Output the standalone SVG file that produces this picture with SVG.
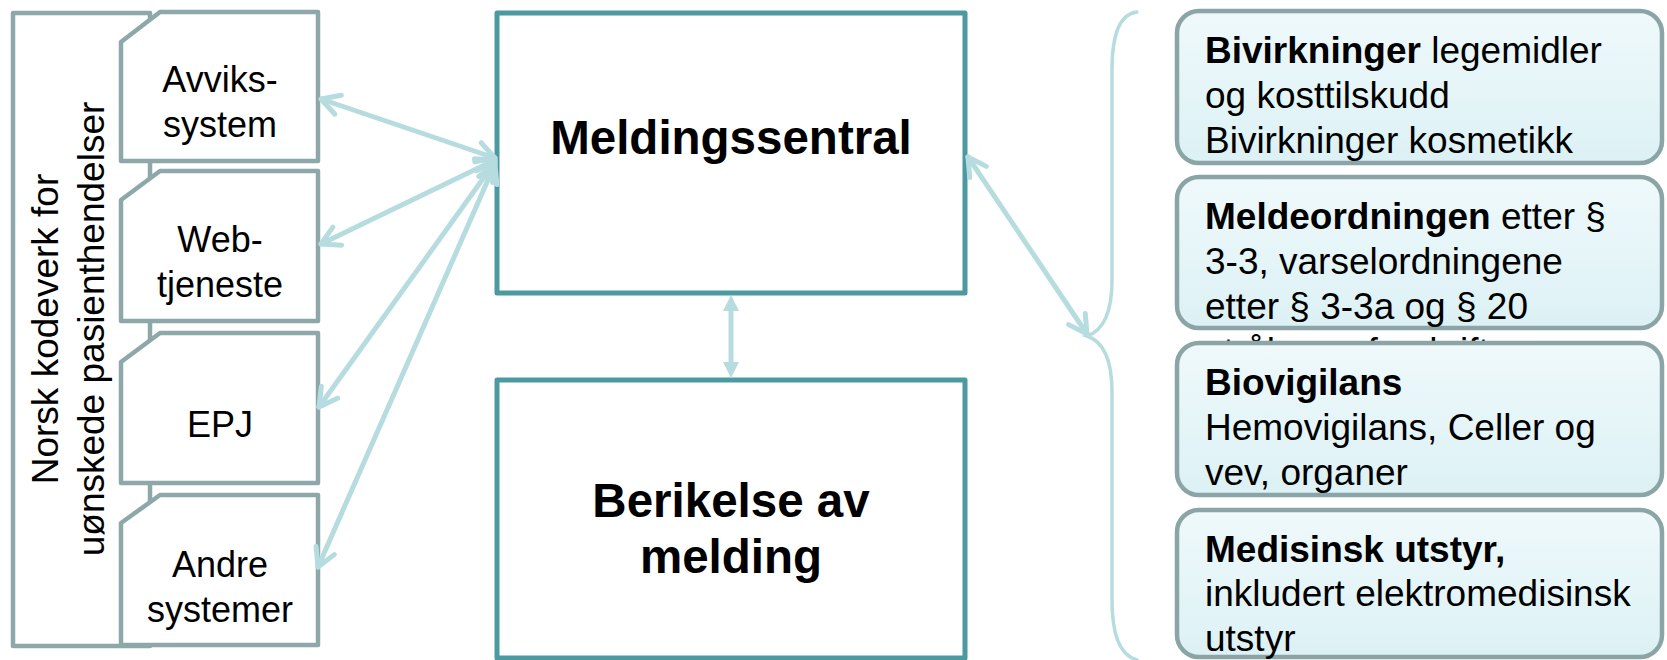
<svg xmlns="http://www.w3.org/2000/svg" width="1667" height="660" viewBox="0 0 1667 660">
<style>
text{font-family:"Liberation Sans",Arial,sans-serif;fill:#000}
.sys{fill:#fff;stroke:#8ea8aa;stroke-width:4.5;stroke-linejoin:round}
.sysT{font-size:36px;text-anchor:middle}
.vert{font-size:37px;text-anchor:middle}
.main{fill:#fff;stroke:#4a9aa0;stroke-width:5;stroke-linejoin:round}
.mainT{font-size:47.5px;font-weight:bold;text-anchor:middle}
.cat{fill:url(#catGrad);stroke:#8ba5a7;stroke-width:4.5}
.catT{font-size:37px}
.b{font-weight:bold}
.conn{fill:none;stroke:#b6dce0;stroke-width:5;stroke-linecap:round}
.brace{fill:none;stroke:#b6dce0;stroke-width:3.5;stroke-linecap:round}
</style>
<defs>
<linearGradient id="catGrad" x1="0" y1="0" x2="0" y2="1">
<stop offset="0" stop-color="#eff9fb"/>
<stop offset="1" stop-color="#dcf1f5"/>
</linearGradient>
<clipPath id="overflowClip">
<rect x="1177" y="326" width="485" height="18"/>
</clipPath>
<marker id="chev" markerUnits="userSpaceOnUse" orient="auto-start-reverse" markerWidth="40" markerHeight="40" refX="0" refY="0" overflow="visible">
<path d="M -18 -10 L 0 0 L -18 10" fill="none" stroke="#b6dce0" stroke-width="5" stroke-linecap="round" stroke-linejoin="round"/>
</marker>
<marker id="tri" markerUnits="userSpaceOnUse" orient="auto-start-reverse" markerWidth="40" markerHeight="40" refX="0" refY="0" overflow="visible">
<path d="M 0 -8 L 16 0 L 0 8 Z" fill="#b6dce0"/>
</marker>
</defs>

<g id="kodeverk">
<rect class="sys" x="13" y="13" width="137" height="633"/>
<text class="vert" transform="translate(58,329) rotate(-90)">Norsk kodeverk for</text>
<text class="vert" transform="translate(104,329) rotate(-90)">uønskede pasienthendelser</text>
</g>

<g id="avvikssystem">
<polygon class="sys" points="121,42 160,12 318,12 318,161 121,161"/>
<text class="sysT" x="220" y="92">Avviks-</text>
<text class="sysT" x="220" y="137">system</text>
</g>
<g id="webtjeneste">
<polygon class="sys" points="121,200 160,171 318,171 318,321 121,321"/>
<text class="sysT" x="220" y="252">Web-</text>
<text class="sysT" x="220" y="297">tjeneste</text>
</g>
<g id="epj">
<polygon class="sys" points="121,362 160,333 318,333 318,483 121,483"/>
<text class="sysT" x="220" y="437">EPJ</text>
</g>
<g id="andre">
<polygon class="sys" points="121,523 160,495 318,495 318,645 121,645"/>
<text class="sysT" x="220" y="577">Andre</text>
<text class="sysT" x="220" y="622">systemer</text>
</g>

<g id="meldingssentral">
<rect class="main" x="497" y="13" width="468" height="280"/>
<text class="mainT" x="731" y="154">Meldingssentral</text>
</g>
<g id="berikelse">
<rect class="main" x="497" y="380" width="468" height="278"/>
<text class="mainT" x="731" y="517">Berikelse av</text>
<text class="mainT" x="731" y="573">melding</text>
</g>

<g id="kat-bivirkninger">
<rect class="cat" x="1177" y="11" width="485" height="152" rx="22" ry="22"/>
<text class="catT" x="1205" y="63"><tspan class="b">Bivirkninger</tspan> legemidler</text>
<text class="catT" x="1205" y="108">og kosttilskudd</text>
<text class="catT" x="1205" y="153">Bivirkninger kosmetikk</text>
</g>
<g id="kat-meldeordningen">
<rect class="cat" x="1177" y="177" width="485" height="151" rx="22" ry="22"/>
<text class="catT" x="1205" y="229"><tspan class="b">Meldeordningen</tspan> etter §</text>
<text class="catT" x="1205" y="274">3-3, varselordningene</text>
<text class="catT" x="1205" y="319">etter § 3-3a og § 20</text>
<text class="catT" x="1205" y="364" clip-path="url(#overflowClip)">strålevernforskriften</text>
</g>
<g id="kat-biovigilans">
<rect class="cat" x="1177" y="343" width="485" height="152" rx="22" ry="22"/>
<text class="catT" x="1205" y="395"><tspan class="b">Biovigilans</tspan></text>
<text class="catT" x="1205" y="440">Hemovigilans, Celler og</text>
<text class="catT" x="1205" y="485">vev, organer</text>
</g>
<g id="kat-medisinsk">
<rect class="cat" x="1177" y="510" width="485" height="147" rx="22" ry="22"/>
<text class="catT" x="1205" y="562"><tspan class="b">Medisinsk utstyr,</tspan></text>
<text class="catT" x="1205" y="606">inkludert elektromedisinsk</text>
<text class="catT" x="1205" y="651">utstyr</text>
</g>

<g id="connectors">
<path class="conn" d="M 495 158 L 321 99" marker-start="url(#chev)" marker-end="url(#chev)"/>
<path class="conn" d="M 495 160 L 321 244" marker-start="url(#chev)" marker-end="url(#chev)"/>
<path class="conn" d="M 495 162 L 319 407" marker-start="url(#chev)" marker-end="url(#chev)"/>
<path class="conn" d="M 495 164 L 318 567" marker-start="url(#chev)" marker-end="url(#chev)"/>
<path class="conn" d="M 968 157 L 1087 334" marker-start="url(#chev)" marker-end="url(#chev)"/>
<path class="conn" d="M 731 311 L 731 362" stroke-linecap="butt" marker-start="url(#tri)" marker-end="url(#tri)"/>
<path class="brace" d="M 1137 12 C 1118 14 1112 40 1112 70 L 1112 280 C 1112 310 1105 330 1087 336 C 1105 342 1112 362 1112 392 L 1112 600 C 1112 630 1118 655 1137 660"/>
</g>
</svg>
